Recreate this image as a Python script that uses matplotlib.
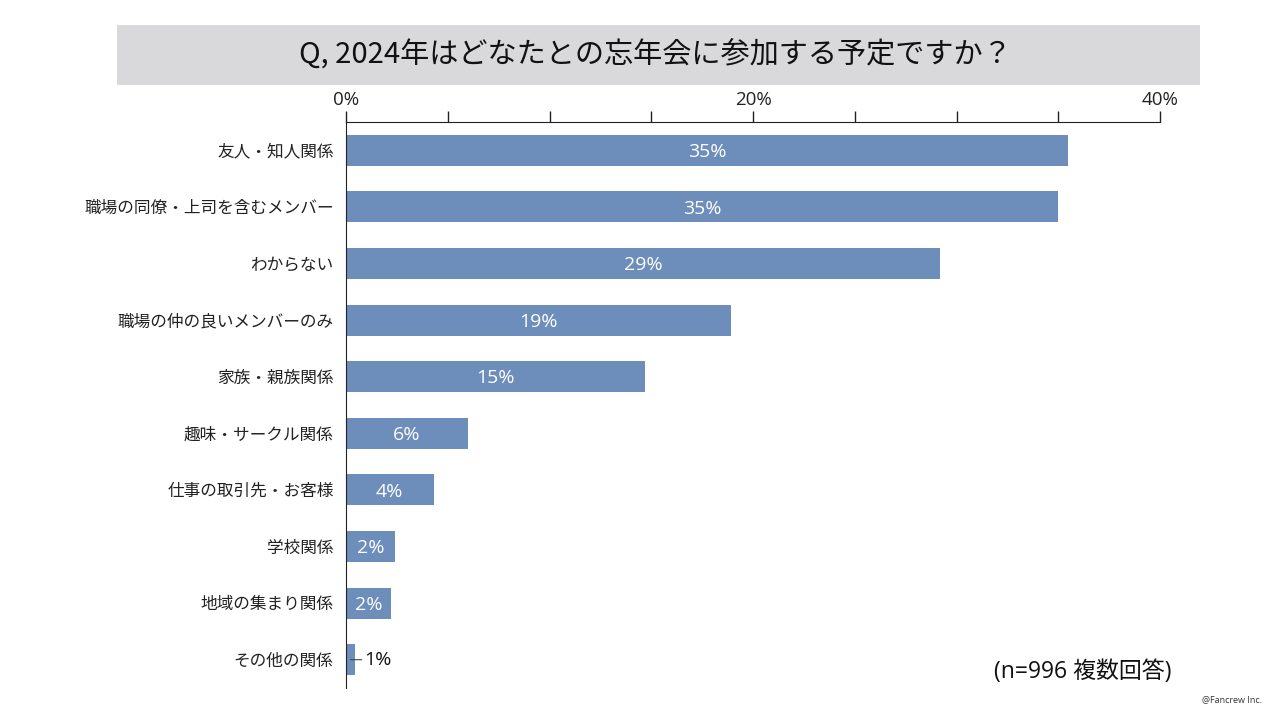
import numpy as np
import matplotlib
matplotlib.use('Agg')
import matplotlib.pyplot as plt
from matplotlib.patches import Rectangle

plt.rcParams['font.family'] = ['Open Sans', 'Noto Sans CJK JP', 'DejaVu Sans']

title = 'Q, 2024年はどなたとの忘年会に参加する予定ですか？'
categories = ['友人・知人関係', '職場の同僚・上司を含むメンバー', 'わからない',
              '職場の仲の良いメンバーのみ', '家族・親族関係', '趣味・サークル関係',
              '仕事の取引先・お客様', '学校関係', '地域の集まり関係', 'その他の関係']
values = [35.5, 35.0, 29.2, 18.9, 14.7, 6.0, 4.3, 2.4, 2.2, 0.45]
value_labels = ['35%', '35%', '29%', '19%', '15%', '6%', '4%', '2%', '2%', '1%']
note = '(n=996 複数回答)'
credit = '@Fancrew Inc.'

bar_color = '#6D8DBA'

fig = plt.figure(figsize=(12.8, 7.2), dpi=100)
fig.patch.set_facecolor('white')

# title band
fig.patches.append(Rectangle((117 / 1280, 1 - 85 / 720), (1200 - 117) / 1280, 60 / 720,
                             transform=fig.transFigure, facecolor='#D9D9DB',
                             edgecolor='none', zorder=0))
fig.text(655 / 1280, 1 - 55 / 720, title, ha='center', va='center',
         fontsize=21, color='#111111', family=['Noto Sans CJK JP', 'DejaVu Sans'])

ax = fig.add_axes([346 / 1280, 32 / 720, (1160 - 346) / 1280, (688 - 122) / 720])
y = np.arange(len(categories))
ax.barh(y, values, height=0.55, color=bar_color, zorder=2)
ax.set_ylim(len(categories) - 0.5, -0.5)
ax.set_xlim(0, 40)

ax.xaxis.tick_top()
ax.set_xticks([0, 20, 40])
ax.set_xticklabels(['0%', '20%', '40%'], fontsize=13.5, color='#222222')
ax.set_xticks(np.arange(0, 41, 5), minor=True)
ax.tick_params(axis='x', which='both', direction='out', length=8, width=1,
               color='#222222', pad=1.5)
ax.set_yticks(y)
ax.set_yticklabels(categories, fontsize=12, color='#222222')
ax.tick_params(axis='y', length=0, pad=9)

for s in ['right', 'bottom']:
    ax.spines[s].set_visible(False)
ax.spines['top'].set_color('#222222')
ax.spines['left'].set_color('#222222')

for i, (v, lab) in enumerate(zip(values, value_labels)):
    if v > 1.5:
        ax.text(v / 2, i + 0.03, lab, ha='center', va='center', color='white',
                fontsize=14)
    else:
        ax.annotate(lab, xy=(v * 0.5, i), xytext=(10, 0), textcoords='offset points',
                    ha='left', va='center', fontsize=14, color='#111111',
                    arrowprops=dict(arrowstyle='-', color='#444444', lw=0.8,
                                    shrinkA=0, shrinkB=0))

fig.text(1172 / 1280, 1 - 672 / 720, note, ha='right', va='center', fontsize=16.5,
         color='#111111')
fig.text(1262 / 1280, 1 - 700 / 720, credit, ha='right', va='center', fontsize=6.5,
         color='#333333')

fig.savefig('out.png', dpi=100)
